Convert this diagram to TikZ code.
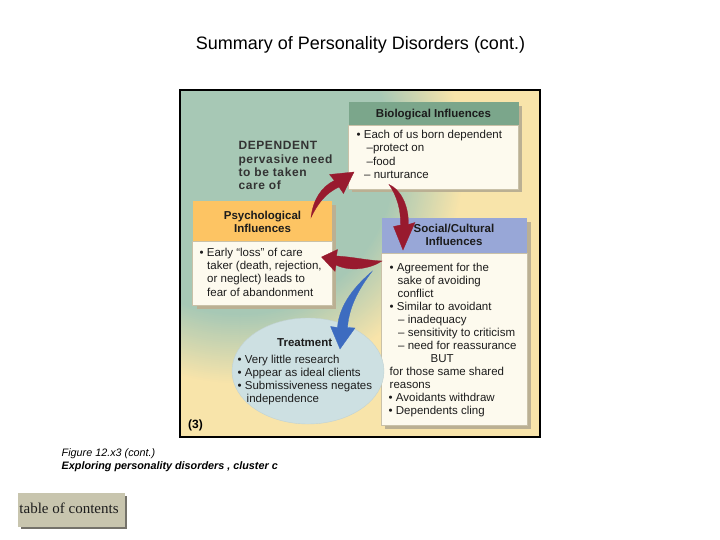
\documentclass[tikz,border=0pt]{standalone}
\usepackage{fontspec}
\setmainfont{Liberation Sans}
\newfontfamily\tocfont{Liberation Serif}
\usetikzlibrary{shapes.geometric}
\definecolor{bgG}{HTML}{A7C8B5}
\definecolor{bgY}{HTML}{F8E4AA}
\definecolor{bioH}{HTML}{7BA68B}
\definecolor{psyH}{HTML}{FDC463}
\definecolor{socH}{HTML}{98A7D7}
\definecolor{bodyC}{HTML}{FDFAEE}
\definecolor{shadowC}{HTML}{BBB093}
\definecolor{edgeC}{HTML}{C9C1A8}
\definecolor{ellC}{HTML}{CDE0E2}
\definecolor{arrR}{HTML}{981A2E}
\definecolor{arrB}{HTML}{3D6CC0}
\definecolor{txt}{HTML}{1C1C1C}
\definecolor{depC}{HTML}{333333}
\definecolor{tocC}{HTML}{C8C5AE}
\definecolor{tocS}{HTML}{74726A}
\tikzset{
  tx/.style={anchor=base west, inner sep=0pt, text=txt, font=\fontsize{11.5}{13}\selectfont},
  hd/.style={anchor=base, inner sep=0pt, text=txt, font=\bfseries\fontsize{11.5}{13}\selectfont},
  dep/.style={anchor=base west, inner sep=0pt, text=depC, font=\bfseries\fontsize{12}{13}\selectfont\addfontfeature{LetterSpace=5}},
  shadowbox/.style={fill=shadowC},
  bodybox/.style={fill=bodyC, draw=edgeC, line width=0.5pt},
  redarrow/.style={fill=arrR, draw=arrR, line width=0.3pt},
  bluearrow/.style={fill=arrB, draw=arrB, line width=0.3pt}
}
\begin{document}
\begin{tikzpicture}[x=1pt,y=-1pt]
\useasboundingbox (0,0) rectangle (720,540);
\fill[white] (0,0) rectangle (720,540);

% title
\node[anchor=base, inner sep=0pt, font=\fontsize{18}{20}\selectfont] (title) at (360.5,50) {Summary of Personality Disorders (cont.)};

% frame background: green centre fading to cream-yellow
\fill[bgY] (180,90) rectangle (540,437);
\begin{scope}
  \clip (180,90) rectangle (540,437);
  \foreach \i in {0,...,35} {
    \pgfmathsetmacro\rr{225-2*\i}
    \pgfmathsetmacro\gg{100*\i/35}
    \fill[bgG!\gg!bgY] (240,160) circle[radius=\rr pt];
  }
\end{scope}
\draw[black, line width=1.6pt] (180,90) rectangle (540,437);

% Biological box
\fill[shadowbox] (352,106) rectangle (522,192.5);
\fill[bioH] (348.5,102.5) rectangle (518.5,125);
\draw[bodybox] (348.5,125) rectangle (518.5,189);
\node[hd] (bioh) at (433.5,118) {Biological Influences};
\node[tx] (bio1) at (356.5,138.5) {• Each of us born dependent};
\node[tx] (bio2) at (366.5,152) {–protect on};
\node[tx] (bio3) at (366.5,165.5) {–food};
\node[tx] (bio4) at (364,178.5) {– nurturance};

% Psychological box
\fill[shadowbox] (196.5,205.5) rectangle (335.5,308.5);
\fill[psyH] (192.5,201.5) rectangle (332,241);
\draw[bodybox] (192.5,241) rectangle (332,305);
\node[hd] (psyh1) at (262.5,219.3) {Psychological};
\node[hd] (psyh2) at (262.5,232.7) {Influences};
\node[tx] (psy1) at (199.5,256) {• Early “loss” of care};
\node[tx] (psy2) at (207,269.3) {taker (death, rejection,};
\node[tx] (psy3) at (207,282.6) {or neglect) leads to};
\node[tx] (psy4) at (207,296) {fear of abandonment};

% Social/Cultural box
\fill[shadowbox] (385,222) rectangle (531,428.5);
\fill[socH] (381.5,218.3) rectangle (527,253);
\draw[bodybox] (381.5,253) rectangle (527,425);
\node[hd] (soch1) at (454,232.7) {Social/Cultural};
\node[hd] (soch2) at (454,245.5) {Influences};
\node[tx] (soc1) at (389.5,271.5) {• Agreement for the};
\node[tx] (soc2) at (397.5,284.5) {sake of avoiding};
\node[tx] (soc3) at (397.5,297.5) {conflict};
\node[tx] (soc4) at (389.5,310.5) {• Similar to avoidant};
\node[tx] (soc5) at (398,323.5) {– inadequacy};
\node[tx] (soc6) at (398,336.5) {– sensitivity to criticism};
\node[tx] (soc7) at (398,349.5) {– need for reassurance};
\node[tx] (soc8) at (430.5,362.5) {BUT};
\node[tx] (soc9) at (389.5,375.5) {for those same shared};
\node[tx] (soc10) at (389.5,388.5) {reasons};
\node[tx] (soc11) at (388.5,401.5) {• Avoidants withdraw};
\node[tx] (soc12) at (388.5,414.5) {• Dependents cling};

% Treatment ellipse
\node[ellipse, fill=ellC, draw=ellC!85!gray, line width=0.4pt, minimum width=152pt, minimum height=106pt, inner sep=0pt] (treat) at (308,371) {};
\node[hd] (treath) at (304.7,346.7) {Treatment};
\node[tx] (tr1) at (237.5,363.3) {• Very little research};
\node[tx] (tr2) at (237.5,376.3) {• Appear as ideal clients};
\node[tx] (tr3) at (237.5,389.3) {• Submissiveness negates};
\node[tx] (tr4) at (246.5,402) {independence};

% DEPENDENT text
\node[dep] (dep1) at (238.3,150) {DEPENDENT};
\node[dep] (dep2) at (238.3,163.3) {pervasive need};
\node[dep] (dep3) at (238.3,176.6) {to be taken};
\node[dep] (dep4) at (238.3,189.6) {care of};

% panel label
\node[anchor=base west, inner sep=0pt, font=\bfseries\fontsize{12}{13}\selectfont] (lab3) at (188,428) {(3)};

% arrows (tapered, drawn as shapes)
% psychological -> biological
\filldraw[redarrow] (311,217.5) .. controls (313,200) and (321,187) .. (334.4,180.5)
  -- (329.5,174.5) -- (354,172) -- (343.5,193.5) -- (339,187)
  .. controls (326,193) and (318,203) .. (311,217.5) -- cycle;
% biological -> social/cultural
\filldraw[redarrow] (389,184.5) .. controls (400,189) and (409,205) .. (408.3,224.5)
  -- (415,222.5) -- (403,250) -- (393.5,226.5) -- (400.5,225)
  .. controls (401,210) and (397,196) .. (389,184.5) -- cycle;
% social/cultural -> psychological
\filldraw[redarrow] (382,261) .. controls (368,260.5) and (350,256.5) .. (336.5,256)
  -- (337.5,249.5) -- (321.5,257) -- (335,271.5) -- (336,265)
  .. controls (350,272) and (370,269) .. (382,261) -- cycle;
% social/cultural -> treatment (blue)
\filldraw[bluearrow] (372,271.5) .. controls (357,284) and (339,304) .. (337.5,327.5)
  -- (330.5,326.5) -- (340,349) -- (355,328) -- (347.5,327.5)
  .. controls (349,305) and (361,286) .. (372,271.5) -- cycle;

% caption
\node[anchor=base west, inner sep=0pt, font=\itshape\fontsize{10.8}{12}\selectfont] (cap1) at (61.5,456.7) {Figure 12.x3 (cont.)};
\node[anchor=base west, inner sep=0pt, font=\bfseries\itshape\fontsize{10.8}{12}\selectfont] (cap2) at (61.5,469.3) {Exploring personality disorders , cluster c};

% table of contents button
\fill[tocS] (20.5,495.5) rectangle (126.5,529);
\fill[tocC] (18.3,493.3) rectangle (125,527.3);
\node[anchor=base west, inner sep=0pt, font=\tocfont\fontsize{15}{16}\selectfont, text=txt] (toc) at (19.3,513.3) {table of contents};
\end{tikzpicture}
\end{document}
